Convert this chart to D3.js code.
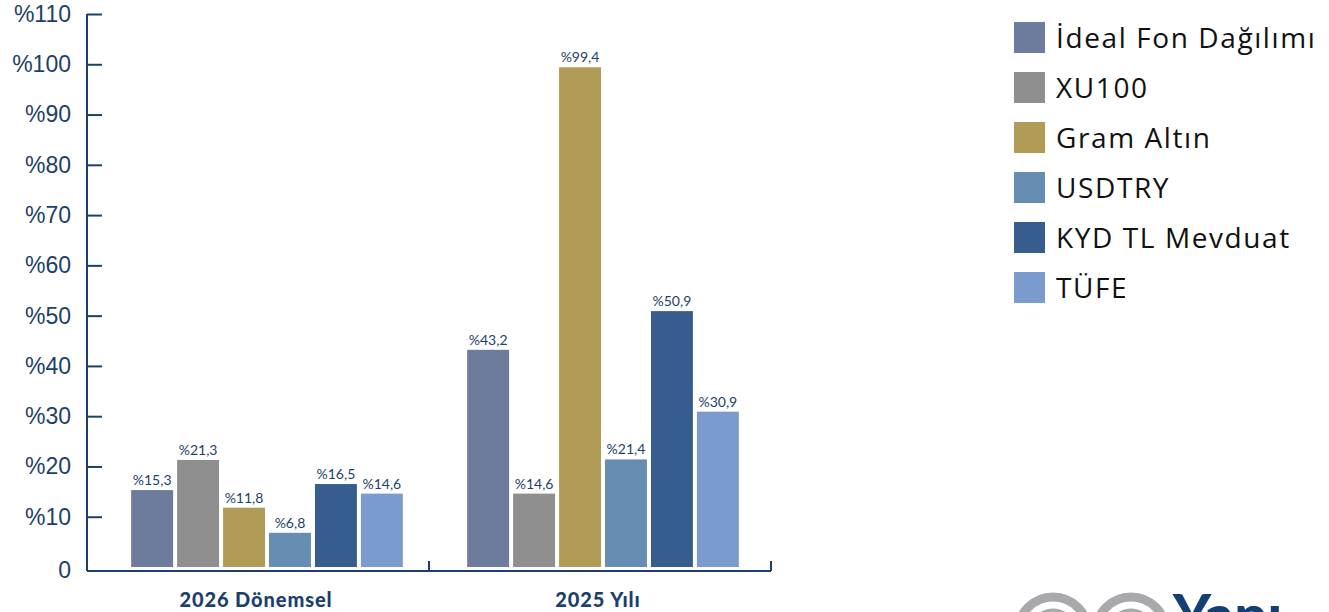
<!DOCTYPE html>
<html>
<head>
<meta charset="utf-8">
<script src="https://d3js.org/d3.v7.min.js"></script>
<style>
    body { margin: 0; background: #fff; }
    svg { display: block; font-family: "Lato", "Noto Sans", sans-serif; }
    .axis path, .axis line { stroke: #1d3f6b; stroke-width: 2px; }
    .axis text { fill: #1d3f6b; }
    .bar-label { fill: #1d3f6b; font-size: 14px; text-anchor: middle; }
    .legend text { fill: #111; font-size: 28px; font-family: "Open Sans", sans-serif; letter-spacing: 1.6px; }
</style>
</head>
<body>
<svg width="1329" height="612"></svg>
<script>
    // veriler
    const categories = ["2026 Dönemsel", "2025 Yılı"];
    const seriesNames = ["İdeal Fon Dağılımı", "XU100", "Gram Altın", "USDTRY", "KYD TL Mevduat", "TÜFE"];
    const values2026 = [15.3, 21.3, 11.8, 6.8, 16.5, 14.6];
    const values2025 = [43.2, 14.6, 99.4, 21.4, 50.9, 30.9];
    const yTicks = [0, 10, 20, 30, 40, 50, 60, 70, 80, 90, 100, 110];
    const colors = ["#6d7c9c", "#8f8f8f", "#b09c57", "#668db2", "#365d8d", "#7b9ace"];

    const data = [values2026, values2025];

    const svg = d3.select("svg");

    // eksen için kategori ölçeği
    const x0 = d3.scaleBand().domain(categories).range([87, 771]);
    // barlar biraz sağa kaymış
    const xb = x0.copy().range([99, 771]);
    const x1 = d3.scaleBand().domain(seriesNames)
        .range([0, xb.bandwidth()])
        .paddingInner(0.087)
        .paddingOuter(0.7);
    const y = d3.scaleLinear().domain([0, 110]).range([567, 14]);
    const color = d3.scaleOrdinal().domain(seriesNames).range(colors);

    // Y ekseni
    const yAxis = svg.append("g")
        .attr("class", "axis y")
        .attr("transform", "translate(87,0)")
        .call(d3.axisLeft(y).tickValues(yTicks).tickSize(-15).tickPadding(16)
            .tickFormat(d => d === 0 ? "0" : "%" + d));
    yAxis.select(".domain").attr("d", `M0,${y(110)}V571`);
    yAxis.selectAll(".tick text").style("font-size", "23px");
    yAxis.selectAll(".tick").filter(d => d === 0)
        .attr("transform", "translate(0,571)");

    // X ekseni
    const xAxis = svg.append("g")
        .attr("class", "axis x")
        .attr("transform", "translate(0,571)");
    xAxis.append("path")
        .attr("class", "domain")
        .attr("d", "M87,0H771");
    xAxis.selectAll("line.sep")
        .data([x0.range()[0] + x0.step(), x0.range()[1]])
        .enter().append("line")
        .attr("x1", d => d).attr("x2", d => d)
        .attr("y1", 0).attr("y2", -10);
    xAxis.selectAll("text")
        .data(categories)
        .enter().append("text")
        .attr("x", d => x0(d) + x0.bandwidth() / 2 - 2)
        .attr("y", 36)
        .attr("text-anchor", "middle")
        .style("font-size", "20px")
        .style("font-weight", "900")
        .style("letter-spacing", "0.9px")
        .text(d => d);

    // barlar
    const groups = svg.selectAll(".group")
        .data(categories)
        .enter().append("g")
        .attr("class", "group")
        .attr("transform", d => `translate(${xb(d)},0)`);

    const bars = groups.selectAll("g.bar")
        .data((d, i) => data[i].map((v, j) => ({name: seriesNames[j], value: v})))
        .enter().append("g")
        .attr("class", "bar");

    bars.append("rect")
        .attr("x", d => x1(d.name))
        .attr("y", d => y(d.value))
        .attr("width", x1.bandwidth())
        .attr("height", d => y(0) - y(d.value))
        .style("fill", d => color(d.name));

    bars.append("text")
        .attr("class", "bar-label")
        .attr("x", d => x1(d.name) + x1.bandwidth() / 2)
        .attr("y", d => y(d.value) - 5)
        .text(d => "%" + String(d.value).replace(".", ","));

    // lejant
    const legend = svg.selectAll(".legend")
        .data(seriesNames)
        .enter().append("g")
        .attr("class", "legend")
        .attr("transform", (d, i) => `translate(1014,${22 + i * 50})`);

    legend.append("rect")
        .attr("width", 31)
        .attr("height", 31)
        .style("fill", color);

    legend.append("text")
        .attr("x", 42)
        .attr("y", 16)
        .attr("dy", ".35em")
        .text(d => d);

    // logo (alt sağ, kesik)
    const logo = svg.append("g").attr("class", "logo");
    logo.selectAll("circle.outer")
        .data([1053, 1131])
        .enter().append("circle")
        .attr("cx", d => d).attr("cy", 632).attr("r", 35)
        .style("fill", "none")
        .style("stroke", "#a7a9ac")
        .style("stroke-width", 9);
    logo.selectAll("circle.inner")
        .data([1053, 1131])
        .enter().append("circle")
        .attr("cx", d => d).attr("cy", 632).attr("r", 20)
        .style("fill", "none")
        .style("stroke", "#a7a9ac")
        .style("stroke-width", 7);
    logo.append("text")
        .attr("x", 1173)
        .attr("y", 636)
        .style("font-size", "58px")
        .style("font-weight", "900")
        .style("fill", "#143f74")
        .text("Yapı");
</script>
</body>
</html>
